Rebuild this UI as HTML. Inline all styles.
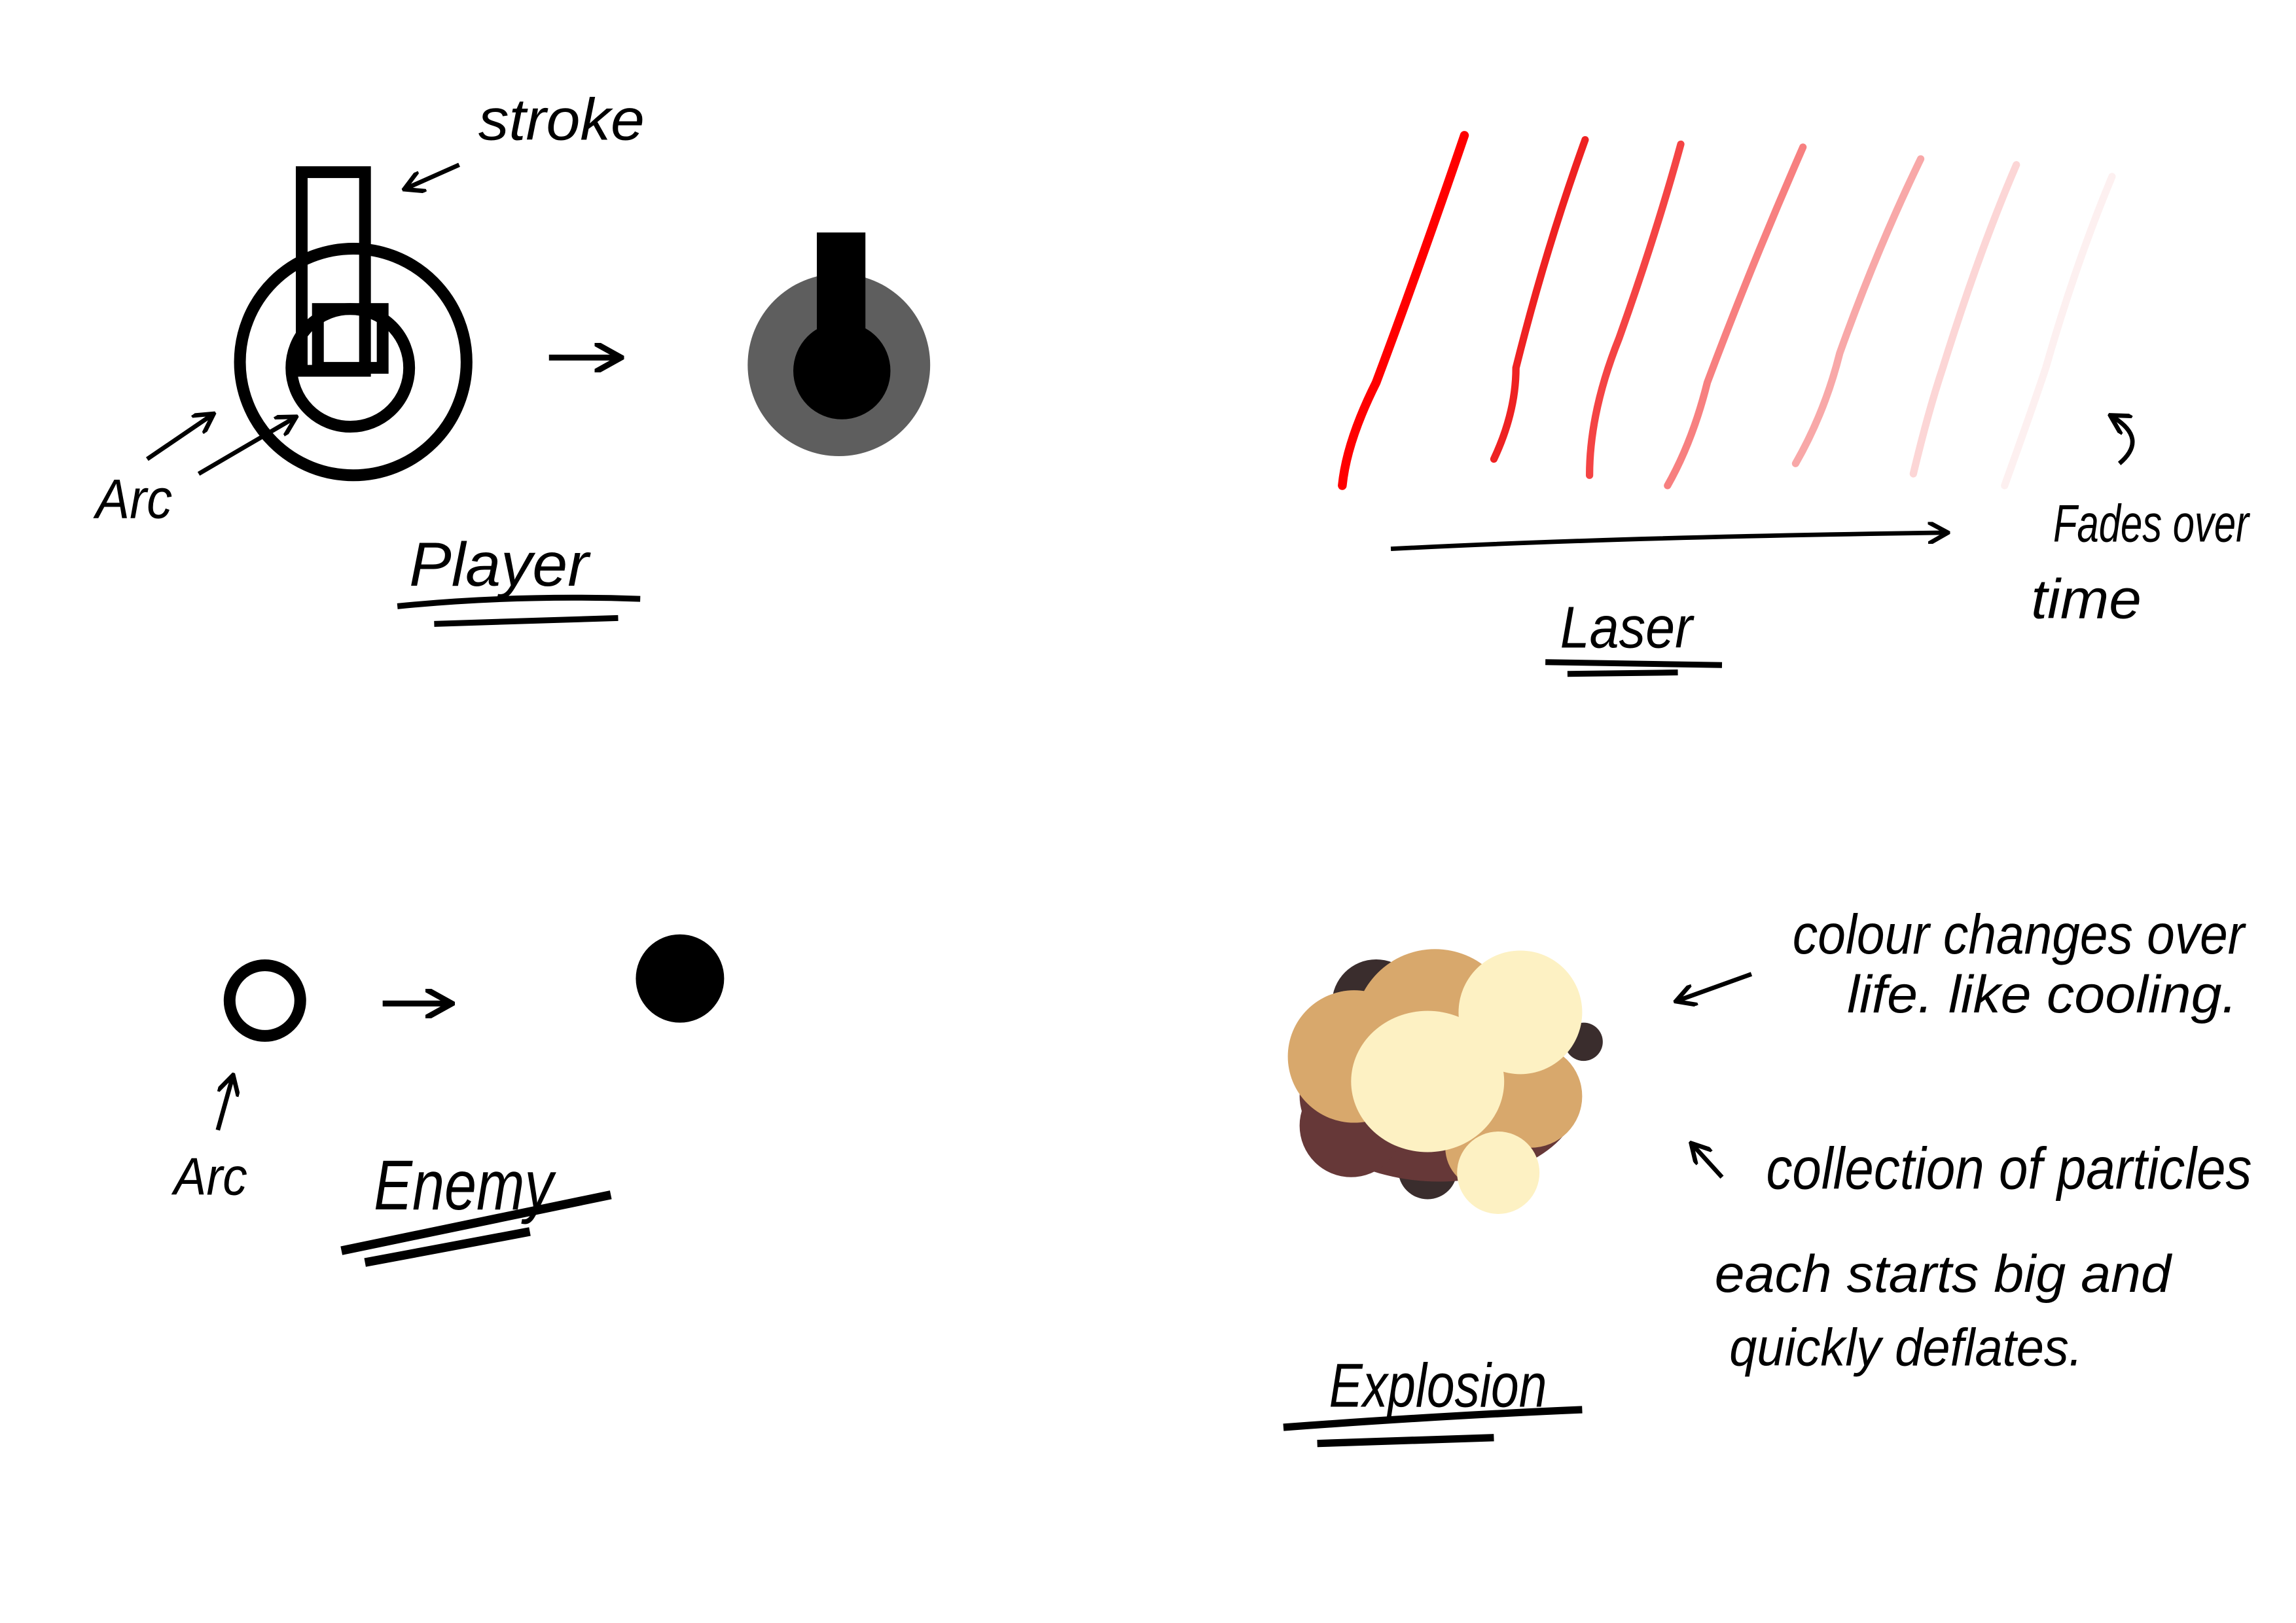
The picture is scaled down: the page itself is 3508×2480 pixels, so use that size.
<!DOCTYPE html>
<html><head><meta charset="utf-8"><style>
html,body{margin:0;padding:0;background:#fff;width:3508px;height:2480px;overflow:hidden}
svg{display:block}
text{font-family:"Liberation Sans",sans-serif;font-style:italic;fill:#000}
</style></head><body>
<svg width="3508" height="2480" viewBox="0 0 1560 1103" preserveAspectRatio="none" xmlns="http://www.w3.org/2000/svg">
<defs><marker id="ah" viewBox="0 0 10 10" refX="8" refY="5" markerWidth="5" markerHeight="5" orient="auto"><path d="M0,0 L9,5 L0,10" fill="none" stroke="#000" stroke-width="2"/></marker></defs>
<rect width="1560" height="1103" fill="#fff"/>
<!-- Player -->
<g fill="none" stroke="#000" stroke-width="8">
<circle cx="240" cy="246" r="77"/>
<circle cx="238" cy="250" r="40"/>
<rect x="205" y="117" width="43" height="135"/>
<rect x="216" y="210" width="44" height="40"/>
</g>
<line x1="373" y1="243" x2="420" y2="243" stroke="#000" stroke-width="4" marker-end="url(#ah)"/>
<g>
<circle cx="570" cy="248" r="62" fill="#5e5e5e"/>
<circle cx="572" cy="252" r="33" fill="#000"/>
<rect x="555" y="158" width="33" height="84" fill="#000"/>
</g>
<text x="325" y="95" font-size="40" textLength="113" lengthAdjust="spacingAndGlyphs">stroke</text>
<line x1="312" y1="112" x2="276" y2="128" stroke="#000" stroke-width="3" marker-end="url(#ah)"/>
<text x="65" y="352" font-size="38" textLength="52" lengthAdjust="spacingAndGlyphs">Arc</text>
<line x1="100" y1="312" x2="144" y2="282" stroke="#000" stroke-width="3" marker-end="url(#ah)"/>
<line x1="135" y1="322" x2="200" y2="284" stroke="#000" stroke-width="3" marker-end="url(#ah)"/>
<text x="278" y="398" font-size="42" textLength="122" lengthAdjust="spacingAndGlyphs">Player</text>
<path d="M270,412 Q350,404 435,407 M295,424 L420,420" stroke="#000" stroke-width="4" fill="none"/>
<!-- Laser -->
<g fill="none" stroke-width="5" stroke-linecap="round">
<path d="M912,330 Q915,300 935,260 Q965,180 995,92" stroke="#ff0000" stroke-width="6"/>
<path d="M1015,312 Q1030,280 1030,250 Q1050,170 1077,95" stroke="#ee2222"/>
<path d="M1080,323 Q1080,280 1100,230 Q1125,160 1142,98" stroke="#f44444"/>
<path d="M1133,330 Q1150,300 1160,260 Q1190,180 1225,100" stroke="#f78080"/>
<path d="M1220,315 Q1240,280 1250,240 Q1275,170 1305,108" stroke="#f8a8a8"/>
<path d="M1300,322 Q1310,280 1320,250 Q1345,170 1370,112" stroke="#fcd6d6"/>
<path d="M1362,330 Q1380,280 1390,250 Q1410,180 1435,120" stroke="#fdf0f0"/>
</g>
<path d="M945,373 Q1100,365 1322,362" stroke="#000" stroke-width="3" fill="none" marker-end="url(#ah)"/>
<text x="1060" y="440" font-size="40" textLength="90" lengthAdjust="spacingAndGlyphs">Laser</text>
<path d="M1050,450 L1170,452 M1065,458 L1140,457" stroke="#000" stroke-width="4" fill="none"/>
<text x="1395" y="368" font-size="36" textLength="133" lengthAdjust="spacingAndGlyphs">Fades over</text>
<text x="1380" y="420" font-size="38" textLength="75" lengthAdjust="spacingAndGlyphs">time</text>
<path d="M1440,315 Q1460,298 1435,283" stroke="#000" stroke-width="3" fill="none" marker-end="url(#ah)"/>
<!-- Enemy -->
<circle cx="180" cy="680" r="24" fill="none" stroke="#000" stroke-width="8"/>
<line x1="260" y1="682" x2="305" y2="682" stroke="#000" stroke-width="4" marker-end="url(#ah)"/>
<circle cx="462" cy="665" r="30" fill="#000"/>
<text x="118" y="812" font-size="36" textLength="50" lengthAdjust="spacingAndGlyphs">Arc</text>
<line x1="148" y1="768" x2="158" y2="732" stroke="#000" stroke-width="3" marker-end="url(#ah)"/>
<text x="254" y="822" font-size="48" textLength="122" lengthAdjust="spacingAndGlyphs">Enemy</text>
<path d="M232,850 L415,812 M248,858 L360,837" stroke="#000" stroke-width="6" fill="none"/>
<!-- Explosion -->
<g>
<circle cx="935" cy="682" r="30" fill="#3a2d2d"/>
<circle cx="1076" cy="708" r="13" fill="#3a2d2d"/>
<circle cx="970" cy="795" r="20" fill="#3a2d2d"/>
<ellipse cx="978" cy="745" rx="95" ry="58" fill="#663838"/>
<circle cx="918" cy="765" r="35" fill="#663838"/>
<circle cx="920" cy="718" r="45" fill="#d8a86c"/>
<circle cx="975" cy="700" r="55" fill="#d8a86c"/>
<circle cx="1040" cy="745" r="35" fill="#d8a86c"/>
<circle cx="1010" cy="780" r="28" fill="#d8a86c"/>
<ellipse cx="970" cy="735" rx="52" ry="48" fill="#fdf1c3"/>
<circle cx="1033" cy="688" r="42" fill="#fdf1c3"/>
<circle cx="1018" cy="797" r="28" fill="#fdf1c3"/>
</g>
<text x="1218" y="648" font-size="38" textLength="307" lengthAdjust="spacingAndGlyphs">colour changes over</text>
<text x="1255" y="688" font-size="36" textLength="265" lengthAdjust="spacingAndGlyphs">life. like cooling.</text>
<line x1="1190" y1="662" x2="1140" y2="680" stroke="#000" stroke-width="3" marker-end="url(#ah)"/>
<text x="1200" y="808" font-size="40" textLength="330" lengthAdjust="spacingAndGlyphs">collection of particles</text>
<line x1="1170" y1="800" x2="1150" y2="778" stroke="#000" stroke-width="3" marker-end="url(#ah)"/>
<text x="1165" y="878" font-size="36" textLength="310" lengthAdjust="spacingAndGlyphs">each starts big and</text>
<text x="1175" y="928" font-size="36" textLength="240" lengthAdjust="spacingAndGlyphs">quickly deflates.</text>
<text x="903" y="956" font-size="42" textLength="148" lengthAdjust="spacingAndGlyphs">Explosion</text>
<path d="M872,970 Q980,962 1075,958 M895,981 L1015,977" stroke="#000" stroke-width="5" fill="none"/>
</svg>
</body></html>
